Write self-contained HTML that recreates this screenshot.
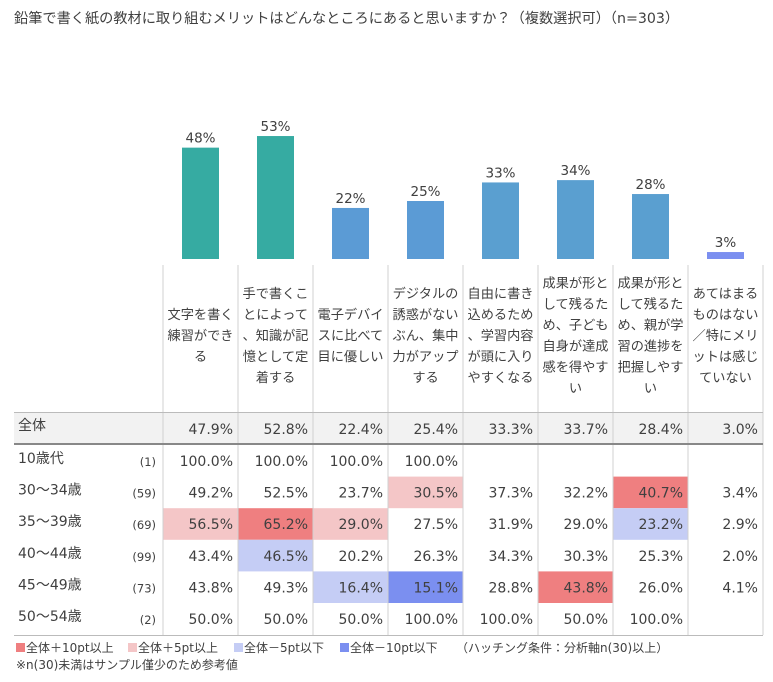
<!DOCTYPE html>
<html><head><meta charset="utf-8">
<style>
body{margin:0;background:#fff;width:773px;height:678px;overflow:hidden;font-family:"DejaVu Sans","Noto Sans CJK JP",sans-serif;}
svg text{font-family:"DejaVu Sans","Noto Sans CJK JP",sans-serif;fill:#404040;}
</style></head><body>
<svg id="chart" width="773" height="678" xmlns="http://www.w3.org/2000/svg"></svg>
<script>
const categories=[["文字を書く","練習ができ","る"],["手で書くこ","とによって","、知識が記","憶として定","着する"],["電子デバイ","スに比べて","目に優しい"],["デジタルの","誘惑がない","ぶん、集中","力がアップ","する"],["自由に書き","込めるため","、学習内容","が頭に入り","やすくなる"],["成果が形と","して残るた","め、子ども","自身が達成","感を得やす","い"],["成果が形と","して残るた","め、親が学","習の進捗を","把握しやす","い"],["あてはまる","ものはない","／特にメリ","ットは感じ","ていない"]];
const barValues=[48,53,22,25,33,34,28,3];
const barColors=["#36aba2","#36aba2","#5b9bd5","#5b9bd5","#5a9fd0","#5a9fd0","#5a9fd0","#7b8ff0"];
const totals=["47.9%","52.8%","22.4%","25.4%","33.3%","33.7%","28.4%","3.0%"];
const rowLabels=["10歳代","30～34歳","35～39歳","40～44歳","45～49歳","50～54歳"];
const rowN=["(1)","(59)","(69)","(99)","(73)","(2)"];
const rowValues=[
["100.0%","100.0%","100.0%","100.0%","","","",""],
["49.2%","52.5%","23.7%","30.5%","37.3%","32.2%","40.7%","3.4%"],
["56.5%","65.2%","29.0%","27.5%","31.9%","29.0%","23.2%","2.9%"],
["43.4%","46.5%","20.2%","26.3%","34.3%","30.3%","25.3%","2.0%"],
["43.8%","49.3%","16.4%","15.1%","28.8%","43.8%","26.0%","4.1%"],
["50.0%","50.0%","50.0%","100.0%","100.0%","50.0%","100.0%",""]];
const rowHL=[
[0,0,0,0,0,0,0,0],
[0,0,0,1,0,0,2,0],
[1,2,1,0,0,0,-1,0],
[0,-1,0,0,0,0,0,0],
[0,0,-1,-2,0,2,0,0],
[0,0,0,0,0,0,0,0]];
const hlColor={"2":"#ef7f80","1":"#f4c6c7","-1":"#c5cdf5","-2":"#7b8ff0"};
const NS="http://www.w3.org/2000/svg";
const svg=document.getElementById('chart');
function mk(t,a,txt){const e=document.createElementNS(NS,t);for(const k in a)e.setAttribute(k,a[k]);if(txt!==undefined)e.textContent=txt;svg.appendChild(e);return e;}
const colX0=163,colW=75,baseY=259,pxPer=2.32;
const xCol=i=>colX0+i*colW;
const yVal=v=>baseY-v*pxPer;
let t=mk('text',{x:14,y:23,'font-size':14.2},'鉛筆で書く紙の教材に取り組むメリットはどんなところにあると思いますか？（複数選択可）（n=303）');


let r=mk('rect',{x:14,y:413,width:749,height:31,fill:'#f2f2f2'});


barValues.forEach((v,i)=>{
  const cx=xCol(i)+colW/2;
  const b=mk('rect',{x:cx-18.5,y:yVal(v),width:37,height:v*pxPer,fill:barColors[i]});
  
  
  const l=mk('text',{x:cx,y:yVal(v)-5,'font-size':13.5,'text-anchor':'middle'},Math.round(v)+'%');
  
  
  const lines=categories[i];
  const lh=21,startY=335-(lines.length-1)*lh/2+5;
  lines.forEach((s,k)=>{
    const c=mk('text',{x:cx,y:startY+k*lh,'font-size':13.2,'text-anchor':'middle'},s);
    
    
  });
  const tv=mk('text',{x:xCol(i)+colW-5,y:434,'font-size':14,'text-anchor':'end'},totals[i]);
  
  
});
const rowY0=445,rowH=31.6;
rowLabels.forEach((lab,ri)=>{
  const y=rowY0+ri*rowH;
  rowValues[ri].forEach((val,ci)=>{
    const h=rowHL[ri][ci];
    if(h){const c=mk('rect',{x:xCol(ci)+0.5,y:y,width:colW-1,height:rowH,fill:hlColor[h]});
      
      }
    if(val){const tx=mk('text',{x:xCol(ci)+colW-5,y:y+21,'font-size':14,'text-anchor':'end'},val);
      
      }
  });
  const a=mk('text',{x:18,y:y+18,'font-size':14},lab);
  
  
  const n=mk('text',{x:156,y:y+21,'font-size':11.5,'text-anchor':'end'},rowN[ri]);
  
  
});
const tl=mk('text',{x:18,y:430,'font-size':14},'全体');


for(let i=0;i<=8;i++){const g=mk('line',{x1:xCol(i),x2:xCol(i),y1:265,y2:635,stroke:'#d0d0d0','stroke-width':1});
  
  }
let ln=mk('line',{x1:14,x2:763,y1:412.5,y2:412.5,stroke:'#bbb','stroke-width':1});


ln=mk('line',{x1:14,x2:763,y1:444,y2:444,stroke:'#888','stroke-width':2});


ln=mk('line',{x1:14,x2:763,y1:635.5,y2:635.5,stroke:'#bbb','stroke-width':1});


const legItems=[["#ef7f80","全体＋10pt以上",16],["#f4c6c7","全体＋5pt以上",128],["#c5cdf5","全体－5pt以下",234],["#7b8ff0","全体－10pt以下",340]];
legItems.forEach(it=>{
  const s=mk('rect',{x:it[2],y:643,width:9,height:9,fill:it[0]});
  
  
  const lt=mk('text',{x:it[2]+10,y:652,'font-size':12},it[1]);
  
  
});
let h=mk('text',{x:456,y:652,'font-size':12},'（ハッチング条件：分析軸n(30)以上）');


h=mk('text',{x:16,y:669,'font-size':12},'※n(30)未満はサンプル僅少のため参考値');


</script>
</body></html>
